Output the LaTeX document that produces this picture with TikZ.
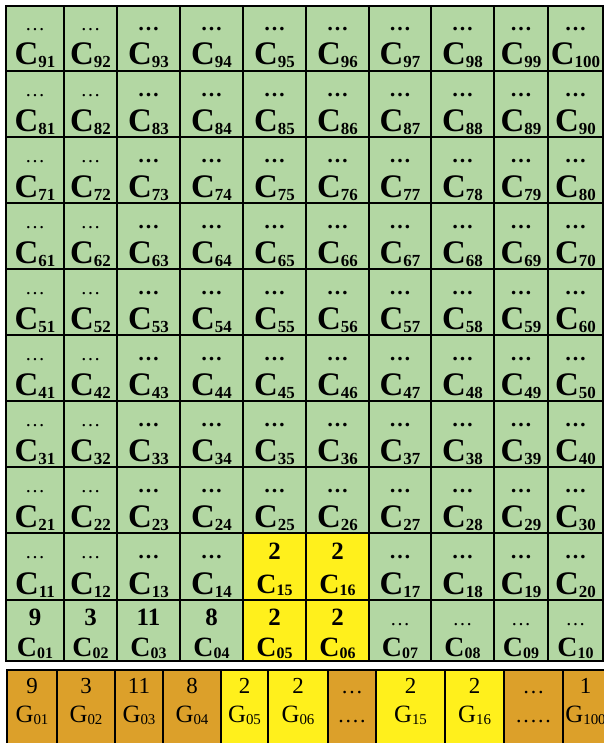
\documentclass[tikz,border=0pt]{standalone}
\usepackage{fontspec}
\setmainfont{Liberation Serif}

\definecolor{cellgreen}{RGB}{179,215,163}
\definecolor{cellyellow}{RGB}{255,240,28}
\definecolor{cellorange}{RGB}{220,160,42}

\newcommand{\bigcell}[1]{{\fontsize{33}{33}\selectfont\bfseries C}\raisebox{-3bp}{\fontsize{17}{17}\selectfont\bfseries #1}}
\newcommand{\smallcell}[1]{{\fontsize{28}{28}\selectfont\bfseries C}\raisebox{-2bp}{\fontsize{16}{16}\selectfont\bfseries #1}}
\newcommand{\gcell}[1]{{\fontsize{25}{25}\selectfont G}\raisebox{-2bp}{\fontsize{15}{15}\selectfont #1}}
\newcommand{\lightdots}{{\fontsize{20}{20}\selectfont\ldots}}
\newcommand{\heavydots}{{\fontsize{22}{22}\selectfont\bfseries\ldots}}
\newcommand{\cellnum}[1]{{\fontsize{25}{25}\selectfont\bfseries #1}}
\newcommand{\gnum}[1]{{\fontsize{23}{23}\selectfont #1}}
\newcommand{\gdots}[1]{{\fontsize{22}{22}\selectfont #1}}

\begin{document}
\begin{tikzpicture}[
    x=1bp, y=-1bp,
    every node/.style={text=black, inner sep=0pt, anchor=base},
    cellbox/.style={draw=black, line width=2.4pt},
    gbox/.style={draw=black, line width=1.8pt}
]

    \useasboundingbox (0,0) rectangle (604,743);
    \clip (0,0) rectangle (604,743);

    % ==========================
    % TOP: the 10 x 10 grid of C cells
    % ==========================
    \foreach \c/\xl/\xr in {1/6/64, 2/64/117, 3/117/180, 4/180/243, 5/243/306,
                            6/306/369, 7/369/431, 8/431/494, 9/494/548, 10/548/603}
    {
        \foreach \r/\yt/\yb in {0/600/661, 1/533/600, 2/467/533, 3/401/467, 4/335/401,
                                5/269/335, 6/203/269, 7/137/203, 8/71/137, 9/6/71}
        {
            \pgfmathtruncatemacro{\n}{10*\r+\c}
            \pgfmathsetmacro{\xm}{(\xl+\xr)/2}
            \pgfmathtruncatemacro{\isyel}{and(\r<2, or(\c==5, \c==6))}
            \ifnum\n<10 \edef\sub{0\n}\else\edef\sub{\n}\fi

            % cell background
            \ifnum\isyel=1
                \draw[cellbox, fill=cellyellow] (\xl,\yt) rectangle (\xr,\yb);
            \else
                \draw[cellbox, fill=cellgreen] (\xl,\yt) rectangle (\xr,\yb);
            \fi

            % value line
            \ifnum\r=0
                \ifnum\c<7
                    \pgfmathtruncatemacro{\v}{{9,3,11,8,2,2}[\c-1]}
                    \node (cv\sub) at (\xm,\yt+25) {\cellnum{\v}};
                \else
                    \node (cv\sub) at (\xm,\yt+25) {\lightdots};
                \fi
            \else
                \ifnum\isyel=1
                    \node (cv\sub) at (\xm,\yt+26) {\cellnum{2}};
                \else\ifnum\c<3
                    \node (cv\sub) at (\xm,\yt+25) {\lightdots};
                \else
                    \node (cv\sub) at (\xm,\yt+25) {\heavydots};
                \fi\fi
            \fi

            % name line
            \ifnum\r=0
                \node (cn\sub) at (\xm,\yb-5) {\smallcell{\sub}};
            \else\ifnum\isyel=1
                \node (cn\sub) at (\xm,\yb-7) {\smallcell{\sub}};
            \else
                \node (cn\sub) at (\xm,\yb-6) {\bigcell{\sub}};
            \fi\fi
        }
    }

    % ==========================
    % BOTTOM: the row of G cells
    % ==========================
    \foreach \i/\xl/\xr/\fc/\top/\bot in {
        1/7/57/cellorange/{\gnum{9}}/{\gcell{01}},
        2/57/115/cellorange/{\gnum{3}}/{\gcell{02}},
        3/115/163/cellorange/{\gnum{11}}/{\gcell{03}},
        4/163/221/cellorange/{\gnum{8}}/{\gcell{04}},
        5/221/268/cellyellow/{\gnum{2}}/{\gcell{05}},
        6/268/328/cellyellow/{\gnum{2}}/{\gcell{06}},
        7/328/376/cellorange/{\gdots{\ldots}}/{\gdots{.\kern1.8bp.\kern1.8bp.\kern1.8bp.}},
        8/376/445/cellyellow/{\gnum{2}}/{\gcell{15}},
        9/445/504/cellyellow/{\gnum{2}}/{\gcell{16}},
        10/504/563/cellorange/{\gdots{\ldots}}/{\gdots{.\kern1.8bp.\kern1.8bp.\kern1.8bp.\kern1.8bp.}},
        11/563/608/cellorange/{\gnum{1}}/{\gcell{100}}}
    {
        \pgfmathsetmacro{\xm}{(\xl+\xr)/2}
        \draw[gbox, fill=\fc] (\xl,670) rectangle (\xr,760);
        \node (gv\i) at (\xm,693) {\top};
        \node (gn\i) at (\xm,722) {\bot};
    }

\end{tikzpicture}
\end{document}
